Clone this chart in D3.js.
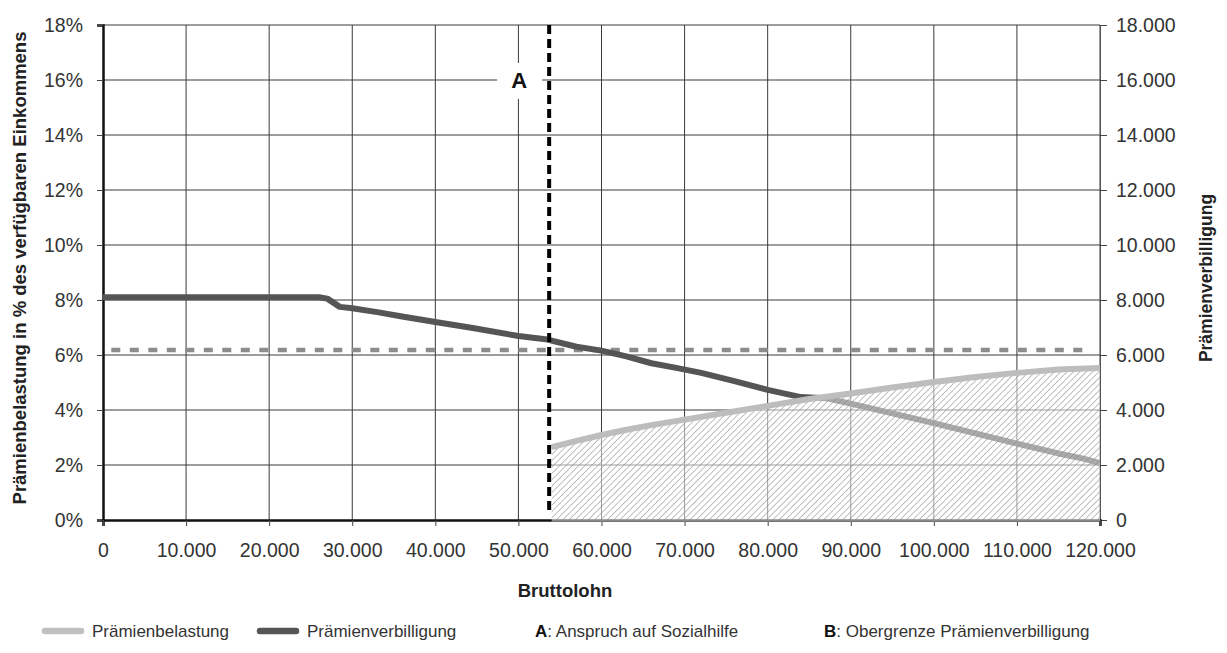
<!DOCTYPE html>
<html><head><meta charset="utf-8">
<script src="https://cdn.jsdelivr.net/npm/d3@7"></script>
<style>
html,body{margin:0;padding:0;background:#fff;}
text{font-family:"Liberation Sans",Arial,sans-serif;}
</style></head>
<body>
<svg id="c" width="1227" height="653"></svg>
<script>
// ---- data ----
const xTicks = [0,10000,20000,30000,40000,50000,60000,70000,80000,90000,100000,110000,120000];
const leftTicks = [0,2,4,6,8,10,12,14,16,18];
const rightTicks = [0,2000,4000,6000,8000,10000,12000,14000,16000,18000];
// Prämienverbilligung (CHF, right axis)
const verbIncome = [0,26000,27000,28000,28500,30000,33000,36000,40000,44500,50000,53500,57000,60000,63000,66000,69000,72000,76000,80000,84000,87000,90000,95000,100000,105000,110000,115000,118000,120000];
const verbValue  = [8100,8100,8050,7850,7750,7700,7560,7400,7200,6980,6690,6560,6300,6160,5950,5700,5530,5350,5050,4730,4470,4430,4230,3880,3520,3150,2780,2420,2230,2070];
// Prämienbelastung (% of disposable income, left axis)
const belIncome = [54000,57000,60000,63000,66000,70000,75000,80000,85000,90000,95000,100000,105000,110000,115000,120000];
const belValue  = [2.65,2.88,3.09,3.28,3.45,3.65,3.9,4.15,4.4,4.6,4.82,5.02,5.2,5.35,5.47,5.53];
const markerA = 53700;      // Anspruch auf Sozialhilfe
const limitB = 6.18;        // Obergrenze Prämienverbilligung (%)
const legendItems = ["Prämienbelastung","Prämienverbilligung"];

const svg = d3.select("#c");
const L=103,R=1100,T=25,B=520;
const x = d3.scaleLinear().domain([0,120000]).range([L,R]);
const yL = d3.scaleLinear().domain([0,18]).range([B,T]);
const yR = d3.scaleLinear().domain([0,18000]).range([B,T]);
const fmt = d3.format(",");
const de = v => fmt(v).replace(/,/g,".");

// pattern
const defs = svg.append("defs");
const pat = defs.append("pattern").attr("id","hatch").attr("patternUnits","userSpaceOnUse")
  .attr("width",4.5).attr("height",4.5).attr("patternTransform","rotate(45)");
pat.append("rect").attr("width",4.5).attr("height",4.5).attr("fill","rgba(255,255,255,0.5)");
pat.append("line").attr("x1",0).attr("y1",0).attr("x2",0).attr("y2",4.5).attr("stroke","#8a8a8a").attr("stroke-width",1.1);

// grid
const g = svg.append("g");
g.selectAll(".vg").data(xTicks.slice(1)).join("line")
  .attr("x1",d=>x(d)).attr("x2",d=>x(d)).attr("y1",T).attr("y2",B)
  .attr("stroke","#3a3a3a").attr("stroke-width",1);
g.selectAll(".hg").data(leftTicks.slice(1)).join("line")
  .attr("x1",L).attr("x2",R).attr("y1",d=>yL(d)).attr("y2",d=>yL(d))
  .attr("stroke","#3a3a3a").attr("stroke-width",1);

// axes
const axL = svg.append("g").attr("transform",`translate(${L},0)`)
  .call(d3.axisLeft(yL).tickValues(leftTicks).tickFormat(d=>d+"%").tickSize(6).tickPadding(14));
axL.select(".domain").attr("stroke","#111").attr("stroke-width",2.5);
const axR = svg.append("g").attr("transform",`translate(${R},0)`)
  .call(d3.axisRight(yR).tickValues(rightTicks).tickFormat(de).tickSize(7).tickPadding(9));
axR.select(".domain").attr("stroke","#555").attr("stroke-width",1);
const axB = svg.append("g").attr("transform",`translate(0,${B})`)
  .call(d3.axisBottom(x).tickValues(xTicks).tickFormat(de).tickSize(6).tickPadding(17));
axB.select(".domain").attr("stroke","#111").attr("stroke-width",2.5);
svg.selectAll(".tick line").attr("stroke","#444");
svg.selectAll(".tick text").attr("font-size",19.5).attr("fill","#333");

// dotted limit line B
svg.append("line").attr("x1",x(1000)).attr("x2",x(118600)).attr("y1",yL(limitB)).attr("y2",yL(limitB))
  .attr("stroke","#8c8c8c").attr("stroke-width",4.5).attr("stroke-dasharray","9,9.5");

// Prämienverbilligung line
const verb = verbIncome.map((d,i)=>[d,verbValue[i]]);
svg.append("path").datum(verb)
  .attr("d",d3.line().x(d=>x(d[0])).y(d=>yR(d[1])))
  .attr("fill","none").attr("stroke","#555").attr("stroke-width",6).attr("stroke-linejoin","round");

// hatched area under Prämienbelastung
const bel = belIncome.map((d,i)=>[d,belValue[i]]);
svg.append("path").datum(bel)
  .attr("d",d3.area().x(d=>x(d[0])).y0(yL(0)+1.5).y1(d=>yL(d[1])))
  .attr("fill","url(#hatch)");
svg.append("path").datum(bel)
  .attr("d",d3.line().x(d=>x(d[0])).y(d=>yL(d[1])))
  .attr("fill","none").attr("stroke","#bdbdbd").attr("stroke-width",6).attr("stroke-linejoin","round");

// marker A
svg.append("line").attr("x1",x(markerA)).attr("x2",x(markerA)).attr("y1",T).attr("y2",B-10)
  .attr("stroke","#000").attr("stroke-width",4).attr("stroke-dasharray","9,5");
svg.append("rect").attr("x",x(markerA)-52).attr("y",yL(16)-17).attr("width",45).attr("height",36).attr("fill","#fff");
svg.append("text").attr("x",x(markerA)-30).attr("y",yL(16)+8).attr("text-anchor","middle")
  .attr("font-size",22).attr("font-weight","bold").attr("fill","#111").text("A");

// axis titles
svg.append("text").attr("transform",`translate(26,268) rotate(-90)`).attr("text-anchor","middle")
  .attr("font-size",18.5).attr("font-weight","bold").attr("fill","#222")
  .text("Prämienbelastung in % des verfügbaren Einkommens");
svg.append("text").attr("transform",`translate(1212,278) rotate(-90)`).attr("text-anchor","middle")
  .attr("font-size",17.5).attr("font-weight","bold").attr("fill","#222")
  .text("Prämienverbilligung");
svg.append("text").attr("x",565).attr("y",597).attr("text-anchor","middle")
  .attr("font-size",18.5).attr("font-weight","bold").attr("fill","#222").text("Bruttolohn");

// legend
const ly = 631;
const sw = [["#c0c0c0",42],["#555",257]];
sw.forEach((s,i)=>{
  svg.append("line").attr("x1",s[1]+3).attr("x2",s[1]+39).attr("y1",ly).attr("y2",ly)
    .attr("stroke",s[0]).attr("stroke-width",6.5).attr("stroke-linecap","round");
  svg.append("text").attr("x",s[1]+50).attr("y",ly+6).attr("font-size",17).attr("fill","#333").text(legendItems[i]);
});
const tA = svg.append("text").attr("x",535).attr("y",ly+6).attr("font-size",17).attr("fill","#333");
tA.append("tspan").attr("font-weight","bold").attr("fill","#111").text("A");
tA.append("tspan").text(": Anspruch auf Sozialhilfe");
const tB = svg.append("text").attr("x",824).attr("y",ly+6).attr("font-size",17).attr("fill","#333");
tB.append("tspan").attr("font-weight","bold").attr("fill","#111").text("B");
tB.append("tspan").text(": Obergrenze Prämienverbilligung");
</script>
</body></html>
